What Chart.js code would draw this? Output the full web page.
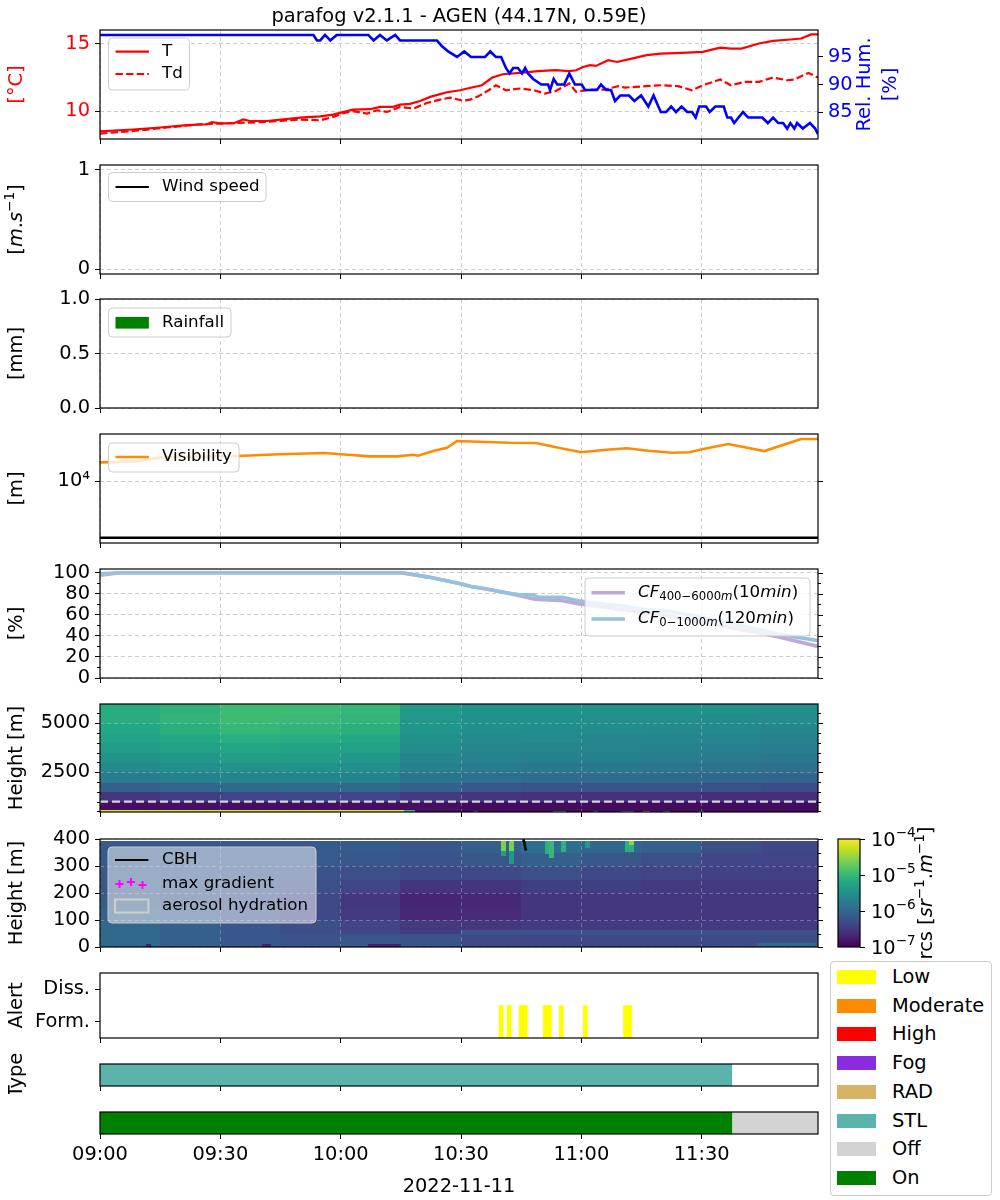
<!DOCTYPE html>
<html>
<head>
<meta charset="utf-8">
<title>parafog v2.1.1 - AGEN</title>
<script src="https://cdn.jsdelivr.net/npm/chart.js@4.4.1/dist/chart.umd.min.js"></script>
<style>
html,body{margin:0;padding:0;background:#fff;}
body{width:1000px;height:1200px;position:relative;overflow:hidden;font-family:"DejaVu Sans",sans-serif;}
canvas{position:absolute;left:0;}
#figleg{position:absolute;left:830px;top:961px;width:162px;height:235px;box-sizing:border-box;border:1px solid #cccccc;border-radius:4px;background:rgba(255,255,255,0.8);}
.lp{position:absolute;left:6px;width:39px;height:14px;}
.lt{position:absolute;left:61px;font-size:19.4px;line-height:22px;height:22px;color:#000;white-space:nowrap;}
</style>
</head>
<body>
<div id="figleg"></div>
<script>
// ===================== DATA =====================
const X_MIN = 0, X_MAX = 179;                 // minutes after 09:00
const xTickMinutes = [0, 30, 60, 90, 120, 150];
const xTickLabels = ['09:00', '09:30', '10:00', '10:30', '11:00', '11:30'];
const dateLabel = '2022-11-11';
const titleText = 'parafog v2.1.1 - AGEN (44.17N, 0.59E)';

// [minute, °C]
const tempSeries = [[0,8.52],[8.2,8.65],[15.0,8.8],[21.7,8.97],[26.7,9.04],[27.9,9.19],[29.9,9.1],[33.2,9.1],[35.7,9.39],[37.4,9.28],[41.6,9.28],[49.9,9.53],[54.9,9.62],[58.1,9.75],[60.6,9.93],[63.1,10.12],[67.3,10.15],[69.8,10.32],[73.1,10.32],[74.8,10.49],[77.3,10.55],[79.8,10.76],[82.3,11.06],[84.8,11.26],[86.5,11.4],[89.8,11.55],[91.6,11.68],[95.2,11.92],[97.8,12.49],[100.4,12.73],[104.7,12.83],[109.2,12.96],[113.5,13.03],[117.0,12.96],[118.7,13.03],[120.4,13.27],[122.2,13.4],[123.6,13.35],[126.7,13.77],[128.9,13.64],[132.8,13.9],[136.3,14.14],[139.8,14.26],[145.0,14.31],[150.3,14.38],[154.6,14.7],[157.3,14.63],[159.9,14.63],[164.3,15.0],[167.8,15.2],[172.1,15.3],[174.8,15.37],[177.3,15.67],[179,15.67]];
const dewSeries = [[0,8.35],[8.2,8.54],[16.7,8.8],[24.9,9.04],[33.2,9.13],[41.6,9.21],[49.9,9.39],[54.9,9.33],[58.1,9.58],[60.6,9.85],[63.1,10.0],[66.6,9.83],[69.1,10.07],[71.6,9.95],[74.8,10.32],[78.1,10.2],[81.5,10.61],[84.8,10.86],[87.3,11.0],[90.5,10.78],[92.3,10.86],[94.3,11.1],[96.9,11.55],[98.7,11.92],[101.2,11.55],[104.7,11.68],[108.2,11.55],[110.9,11.31],[113.5,11.48],[117.0,12.05],[118.7,11.43],[122.2,11.6],[125.7,11.6],[129.2,11.85],[130.9,11.75],[136.3,11.85],[139.8,11.92],[144.1,11.85],[147.6,11.55],[150.3,11.92],[154.6,12.34],[157.3,11.92],[160.8,12.17],[164.3,12.17],[167.8,12.49],[171.3,12.29],[173.1,12.34],[174.8,12.59],[176.6,12.83],[179,12.49]];
// [minute, %]
const rhSeries = [[0,99],[53.2,99],[54.1,98],[54.9,98],[56.1,99],[57.4,98],[59.0,99],[66.9,99],[68.2,98],[69.8,99],[71.5,98],[73.6,99],[74.8,98],[84.0,98],[85.2,97],[86.8,96],[89.0,95],[90.8,96],[92.5,95],[96.0,95],[97.3,96],[98.7,95],[100.0,95],[101.2,93],[102.1,92],[103.0,93],[104.2,93],[105.2,92],[106.0,93],[106.7,92],[108.0,91],[110.0,90],[111.7,90],[112.2,89],[113.1,91],[114.0,90],[115.7,90],[117.0,92],[118.4,90],[120.1,90],[120.9,89],[123.9,89],[124.9,90],[126.2,89],[127.4,89],[128.4,87],[129.7,88],[131.9,88],[133.2,87],[134.9,88],[136.7,86],[138.0,88],[139.8,85],[141.1,85],[142.4,86],[143.6,85],[145.0,86],[146.4,85],[147.6,85],[148.5,84],[149.4,86],[151.1,86],[152.0,85],[153.4,86],[155.5,86],[156.4,84],[157.3,84],[158.1,83],[160.3,85],[161.6,84],[165.1,84],[166.5,83],[167.8,84],[169.1,83],[170.3,83],[171.3,82],[172.1,83],[173.1,82],[173.8,83],[175.2,82],[177.0,83],[178.3,82],[179,81]];
const tempTicks = [10, 15], tempTickLabels = ['10', '15'];
const rhTicks = [85, 90, 95], rhTickLabels = ['85', '90', '95'];

const windSeries = [];
const windTicks = [0, 1], windTickLabels = ['0', '1'];
const rainSeries = [];
const rainTicks = [0, 0.5, 1], rainTickLabels = ['0.0', '0.5', '1.0'];

// [minute, m]
const visSeries = [[0,21700],[8.5,22300],[15.2,26600],[34.4,28100],[44.6,30100],[55.9,31800],[61.8,29600],[67.3,27700],[74.1,27700],[78.1,29600],[79.3,28400],[83.3,34900],[86.5,39400],[89.0,51800],[102.0,48300],[108.7,47800],[115.5,37800],[120.0,32700],[126.2,36300],[131.4,38500],[136.7,34900],[142.6,32100],[146.9,32700],[150.1,36900],[156.6,45900],[165.6,34400],[174.8,56200],[179,56200]];
const visThreshold = 1000;
const visTicks = [10000], visTickLabels = ['10\u2074'];

// [minute, %]
const cf400Series = [[0,97.5],[5,100],[75.2,100],[81.9,95.8],[89.9,89.4],[92.5,86.8],[95.3,85.2],[100.6,81.4],[104.6,78.1],[108.4,74.9],[115.3,73.3],[119.9,70.1],[125.9,66.9],[132.6,63.6],[142.0,58.8],[148.6,54.0],[155.4,49.2],[162.1,44.4],[168.7,39.5],[179,30.0]];
const cf0Series = [[0,99],[5,100],[75.2,100],[81.9,95.8],[89.9,89.4],[92.5,86.8],[95.3,85.2],[100.6,81.4],[104.6,79.1],[108.0,79.1],[109.2,76.6],[115.3,76.6],[119.3,73.3],[125.9,70.1],[129.9,68.5],[135.3,65.3],[142.0,63.0],[148.6,58.8],[155.4,53.4],[162.1,47.6],[168.7,42.1],[179,35.5]];
const cfTicks = [0, 20, 40, 60, 80, 100], cfTickLabels = ['0', '20', '40', '60', '80', '100'];
const cfMinorTicks = [10, 30, 50, 70, 90];

// range-corrected signal, log10(rcs), 15-min columns x height bands (bottom-up)
const heatCols = [0, 15, 30, 45, 60, 75, 90, 105, 120, 135, 150, 165];
const heat1Rows = [450, 1000, 1500, 2000, 2500, 3000, 3500, 4000, 4500, 5000, 5500];
const heat1RowTop = 6000;
const heat1Log = [
  [-6.88,-6.88,-6.88,-6.88,-6.88,-6.88,-6.91,-6.91,-6.91,-6.91,-6.91,-6.91],
  [-6.52,-6.46,-6.40,-6.34,-6.40,-6.49,-6.55,-6.58,-6.58,-6.58,-6.61,-6.61],
  [-6.10,-6.04,-5.98,-5.95,-5.98,-6.10,-6.19,-6.22,-6.22,-6.25,-6.28,-6.31],
  [-5.77,-5.71,-5.65,-5.65,-5.68,-5.86,-5.92,-5.95,-5.95,-5.98,-6.01,-6.04],
  [-5.59,-5.53,-5.50,-5.50,-5.53,-5.71,-5.77,-5.80,-5.80,-5.83,-5.86,-5.89],
  [-5.47,-5.41,-5.35,-5.35,-5.41,-5.62,-5.68,-5.71,-5.71,-5.74,-5.77,-5.80],
  [-5.35,-5.29,-5.23,-5.26,-5.29,-5.56,-5.62,-5.65,-5.65,-5.68,-5.71,-5.74],
  [-5.26,-5.20,-5.11,-5.14,-5.20,-5.50,-5.59,-5.59,-5.62,-5.62,-5.65,-5.68],
  [-5.20,-5.11,-5.02,-5.05,-5.11,-5.44,-5.53,-5.56,-5.56,-5.59,-5.59,-5.62],
  [-5.14,-5.05,-4.96,-4.99,-5.05,-5.41,-5.50,-5.50,-5.53,-5.53,-5.56,-5.56],
  [-5.14,-5.08,-4.96,-4.96,-5.02,-5.38,-5.50,-5.50,-5.50,-5.50,-5.50,-5.53]
];
// [minStart, minEnd, hBottom, hTop, log10 rcs]
const heat1Cells = [[0,76,450,540,-4.15],[76,78.5,450,540,-5.0],[93,94,450,520,-5.2],[113,116,450,520,-4.9],[123,124,450,520,-5.2],[130,133,450,520,-5.0],[135.5,137,450,520,-4.6],[140.5,142,450,520,-5.0],[149.5,150.5,450,520,-5.0]];
const heat1Ticks = [2500, 5000], heat1TickLabels = ['2500', '5000'];
const heat1MinorTicks = [500, 1000, 1500, 2000, 3000, 3500, 4000, 4500, 5500];
const cloudFracLimit = 1000;

const heat2Rows = [0, 50, 100, 150, 200, 250, 300, 350];
const heat2RowTop = 390;
const heat2Log = [
  [-5.98,-6.10,-6.19,-6.22,-6.19,-6.22,-6.34,-6.37,-6.34,-6.34,-6.31,-6.28],
  [-5.98,-6.10,-6.19,-6.28,-6.40,-6.49,-6.52,-6.49,-6.49,-6.49,-6.49,-6.49],
  [-6.07,-6.16,-6.25,-6.34,-6.49,-6.67,-6.64,-6.55,-6.52,-6.52,-6.52,-6.52],
  [-6.13,-6.19,-6.25,-6.34,-6.52,-6.70,-6.67,-6.55,-6.52,-6.52,-6.52,-6.52],
  [-6.16,-6.19,-6.22,-6.28,-6.40,-6.55,-6.55,-6.46,-6.46,-6.49,-6.49,-6.49],
  [-6.16,-6.16,-6.19,-6.22,-6.28,-6.34,-6.34,-6.28,-6.34,-6.40,-6.43,-6.43],
  [-6.16,-6.16,-6.16,-6.16,-6.19,-6.22,-6.19,-6.10,-6.19,-6.28,-6.37,-6.40],
  [-6.16,-6.16,-6.16,-6.16,-6.16,-6.19,-6.10,-5.92,-6.01,-6.10,-6.28,-6.34]
];
const heat2Cells = [[100,101,355,390,-4.6],[100,101,340,355,-5.3],[102,103,355,390,-4.6],[102,103,310,355,-5.4],[111,112,345,390,-5.1],[112,113,330,390,-5.0],[115,116,355,390,-5.1],[121,122,370,390,-5.4],[131,132,355,390,-5.1],[132,133,375,390,-4.5],[132,133,355,375,-5.1],[11.7,12.6,0,8,-6.75],[40.6,42.4,0,8,-6.75],[67,75,0,8,-6.75],[90,179,45,60,-6.25],[164,179,0,12,-6.0]];
const heat2Ticks = [0, 100, 200, 300, 400], heat2TickLabels = ['0', '100', '200', '300', '400'];
const heat2MinorTicks = [50, 150, 250, 350];
const cbhSeries = [[105.4,410],[106.2,357]];
const rcsLogMin = -7, rcsLogMax = -4;
const rcsTicks = [-7, -6, -5, -4];

// alerts (minutes with a "Form." / Low alert)
const alertFormMinutes = [100, 102, 105, 106, 111, 112, 115, 121, 131, 132];
const alertFormLevel = 1;
const alertTicks = [1, 2], alertTickLabels = ['Form.', 'Diss.'];
const stlSpan = [0, 157.5];
const onSpan = [0, 157.5];
const offSpan = [157.5, 179];
const statusLabels = ['Low', 'Moderate', 'High', 'Fog', 'RAD', 'STL', 'Off', 'On'];
const statusColors = ['#ffff00', '#ff8c00', '#ff0000', '#8a2be2', '#d8b365', '#5ab4ac', '#d3d3d3', '#008000'];

// ===================== STYLE / HELPERS =====================
const FONT = '"DejaVu Sans", sans-serif';
const FS_TICK = 19.4, FS_LAB = 19.4, FS_LEG = 16.7;
const GRID = 'rgba(176,176,176,0.8)';
const GRID_HEAT = 'rgba(205,205,205,0.45)';
const CF400_COLOR = 'rgb(190,168,212)';
const CF0_COLOR = 'rgb(150,192,222)';
const VIRIDIS = [[68,1,84],[72,36,117],[65,68,135],[53,95,141],[42,120,142],[33,145,140],[34,168,132],[68,191,112],[122,209,81],[189,223,38],[253,231,37]];
Chart.defaults.font.family = FONT;

function viridis(t) {
  t = Math.max(0, Math.min(1, t));
  const p = t * (VIRIDIS.length - 1);
  const i = Math.min(Math.floor(p), VIRIDIS.length - 2);
  const f = p - i, a = VIRIDIS[i], b = VIRIDIS[i + 1];
  return 'rgb(' + [0,1,2].map(k => Math.round(a[k] + (b[k] - a[k]) * f)).join(',') + ')';
}
const toXY = arr => arr.map(([x, y]) => ({x, y}));

function drawRich(ctx, segs, x, y, size, color, align) {
  const parts = segs.map(s => {
    const sz = (s.sup || s.sub) ? size * 0.7 : size;
    const font = (s.it ? 'italic ' : '') + sz + 'px ' + FONT;
    ctx.font = font;
    return {s, font, w: ctx.measureText(s.t).width};
  });
  const total = parts.reduce((a, p) => a + p.w, 0);
  let cx = align === 'center' ? x - total / 2 : (align === 'right' ? x - total : x);
  ctx.fillStyle = color; ctx.textAlign = 'left'; ctx.textBaseline = 'middle';
  for (const p of parts) {
    ctx.font = p.font;
    const dy = p.s.sup ? -size * 0.34 : (p.s.sub ? size * 0.24 : 0);
    ctx.fillText(p.s.t, cx, y + dy);
    cx += p.w;
  }
  return total;
}
function roundRect(ctx, x, y, w, h, r) {
  ctx.beginPath();
  ctx.moveTo(x + r, y); ctx.lineTo(x + w - r, y); ctx.quadraticCurveTo(x + w, y, x + w, y + r);
  ctx.lineTo(x + w, y + h - r); ctx.quadraticCurveTo(x + w, y + h, x + w - r, y + h);
  ctx.lineTo(x + r, y + h); ctx.quadraticCurveTo(x, y + h, x, y + h - r);
  ctx.lineTo(x, y + r); ctx.quadraticCurveTo(x, y, x + r, y); ctx.closePath();
}

function xScale(o = {}) {
  return {
    type: 'linear', min: X_MIN, max: X_MAX, offset: false,
    afterBuildTicks: s => { s.ticks = xTickMinutes.map(v => ({value: v})); },
    afterFit: s => { s.height = o.h || 8; s.paddingLeft = 0; s.paddingRight = 0; },
    ticks: {display: !!o.labels, autoSkip: false, maxRotation: 0, minRotation: 0, padding: 4, color: '#000',
            font: {family: FONT, size: FS_TICK}, callback: (v, i) => xTickLabels[i]},
    grid: {display: true, drawOnChartArea: o.grid !== false, color: o.gridColor || GRID, lineWidth: 0.8,
           drawTicks: true, tickLength: 5, tickColor: '#000', tickWidth: 1, offset: false, z: o.gz || -1},
    border: {display: false, dash: [4, 3]}
  };
}
function yScale(o) {
  return {
    type: o.type || 'linear', position: o.pos || 'left', min: o.min, max: o.max,
    afterBuildTicks: s => { s.ticks = o.ticks.map(v => ({value: v})); },
    afterFit: s => { s.width = o.w || 100; s.paddingTop = 0; s.paddingBottom = 0; },
    ticks: {display: true, autoSkip: false, padding: 5, color: o.color || '#000',
            font: {family: FONT, size: FS_TICK}, callback: (v, i) => o.labels[i]},
    grid: {display: true, drawOnChartArea: o.grid !== false, color: o.gridColor || GRID, lineWidth: 0.8,
           drawTicks: true, tickLength: 5, tickColor: '#000', tickWidth: 1, z: o.gz || -1},
    border: {display: false, dash: [4, 3]}
  };
}
function catScale() {
  return {type: 'category', offset: true, ticks: {display: false}, grid: {display: false},
          border: {display: false}, afterFit: s => { s.width = 100; s.paddingTop = 0; s.paddingBottom = 0; }};
}

const framePlugin = {id: 'frame', afterDraw(chart) {
  const {ctx, chartArea: a} = chart;
  ctx.save(); ctx.strokeStyle = '#000'; ctx.lineWidth = 1.2;
  ctx.strokeRect(a.left, a.top, a.right - a.left, a.bottom - a.top); ctx.restore();
}};
function yLabelPlugin(items) {
  return {id: 'ylab', afterDraw(chart) {
    const {ctx, chartArea: a} = chart; const cy = (a.top + a.bottom) / 2;
    items.forEach(it => {
      ctx.save(); ctx.translate(it.x, cy); ctx.rotate(-Math.PI / 2);
      drawRich(ctx, it.segs, 0, 0, FS_LAB, it.color || '#000', 'center'); ctx.restore();
    });
  }};
}
function extraTicksPlugin(spec) {
  return {id: 'xticks', afterDraw(chart) {
    const {ctx, chartArea: a, scales} = chart; const y = scales.y;
    ctx.save(); ctx.strokeStyle = '#000'; ctx.lineWidth = 1;
    const draw = (vals, side, len) => (vals || []).forEach(v => {
      const py = Math.round(y.getPixelForValue(v)) + 0.5;
      if (py < a.top - 1 || py > a.bottom + 1) return;
      ctx.beginPath();
      if (side === 'r') { ctx.moveTo(a.right, py); ctx.lineTo(a.right + len, py); }
      else { ctx.moveTo(a.left, py); ctx.lineTo(a.left - len, py); }
      ctx.stroke();
    });
    draw(spec.rightMajor, 'r', 5); draw(spec.rightMinor, 'r', 3); draw(spec.leftMinor, 'l', 3);
    ctx.restore();
  }};
}
function legendPlugin(top, box) {
  return {id: 'mlegend', afterDraw(chart) {
    const ctx = chart.ctx; ctx.save();
    roundRect(ctx, box.x, box.y - top, box.w, box.h, 4);
    ctx.fillStyle = 'rgba(255,255,255,' + box.alpha + ')'; ctx.fill();
    ctx.strokeStyle = '#cccccc'; ctx.lineWidth = 1; ctx.stroke();
    box.items.forEach(it => {
      const cy = it.y - top, hx0 = box.hx, HL = 33.4;
      ctx.setLineDash(it.dash || []);
      if (it.kind === 'line') {
        ctx.strokeStyle = it.color; ctx.lineWidth = it.lw || 2.2;
        ctx.beginPath(); ctx.moveTo(hx0, cy); ctx.lineTo(hx0 + HL, cy); ctx.stroke();
      } else if (it.kind === 'patch') {
        ctx.fillStyle = it.color; ctx.fillRect(hx0, cy - 5.8, HL, 11.7);
      } else if (it.kind === 'plus') {
        ctx.strokeStyle = it.color; ctx.lineWidth = 2;
        [[4.5, 0.5], [16, -1.5], [27.5, 1.5]].forEach(([dx, dy]) => {
          const px = hx0 + dx, py = cy + dy;
          ctx.beginPath(); ctx.moveTo(px - 4, py); ctx.lineTo(px + 4, py);
          ctx.moveTo(px, py - 4); ctx.lineTo(px, py + 4); ctx.stroke();
        });
      } else if (it.kind === 'outline') {
        ctx.strokeStyle = it.color; ctx.lineWidth = 2; ctx.strokeRect(hx0, cy - 6.5, HL, 13);
      }
      ctx.setLineDash([]);
      drawRich(ctx, it.label, box.tx, cy, FS_LEG, '#000', 'left');
    });
    ctx.restore();
  }};
}
function heatPlugin(rows, rowTop, values, cells) {
  return {id: 'heat', beforeDatasetsDraw(chart) {
    const {ctx, chartArea: a, scales} = chart; const xs = scales.x, ys = scales.y;
    ctx.save(); ctx.beginPath(); ctx.rect(a.left, a.top, a.right - a.left, a.bottom - a.top); ctx.clip();
    const cell = (t0, t1, h0, h1, v) => {
      const x0 = xs.getPixelForValue(t0), x1 = xs.getPixelForValue(t1);
      const yb = ys.getPixelForValue(h0), yt = ys.getPixelForValue(h1);
      ctx.fillStyle = viridis((v - rcsLogMin) / (rcsLogMax - rcsLogMin));
      ctx.fillRect(Math.floor(x0), Math.floor(yt), Math.ceil(x1) - Math.floor(x0), Math.ceil(yb) - Math.floor(yt));
    };
    values.forEach((row, j) => row.forEach((v, i) =>
      cell(heatCols[i], i + 1 < heatCols.length ? heatCols[i + 1] : X_MAX, rows[j], j + 1 < rows.length ? rows[j + 1] : rowTop, v)));
    cells.forEach(c => cell(...c));
    ctx.restore();
  }};
}
function textPlugin(top, items) {
  return {id: 'txt', afterDraw(chart) {
    const ctx = chart.ctx; ctx.save();
    items.forEach(it => {
      ctx.font = FS_LAB + 'px ' + FONT; ctx.fillStyle = '#000'; ctx.textAlign = 'center'; ctx.textBaseline = 'alphabetic';
      ctx.fillText(it.t, it.x, it.y - top);
    });
    ctx.restore();
  }};
}
const colorbarPlugin = {id: 'cbar', afterDraw(chart) {
  const {ctx, chartArea: a} = chart;
  const x0 = 838, x1 = 860, top = a.top, bot = a.bottom;
  ctx.save();
  const g = ctx.createLinearGradient(0, bot, 0, top);
  VIRIDIS.forEach((c, k) => g.addColorStop(k / (VIRIDIS.length - 1), 'rgb(' + c.join(',') + ')'));
  ctx.fillStyle = g; ctx.fillRect(x0, top, x1 - x0, bot - top);
  ctx.strokeStyle = '#000'; ctx.lineWidth = 1.2; ctx.strokeRect(x0, top, x1 - x0, bot - top);
  ctx.lineWidth = 1;
  rcsTicks.forEach(v => {
    const py = Math.round(bot - (v - rcsLogMin) / (rcsLogMax - rcsLogMin) * (bot - top)) + 0.5;
    ctx.beginPath(); ctx.moveTo(x1, py); ctx.lineTo(x1 + 5, py); ctx.stroke();
    drawRich(ctx, [{t: '10'}, {t: '\u2212' + Math.abs(v), sup: 1}], x1 + 11, py + 1, FS_TICK, '#000', 'left');
  });
  ctx.translate(927, (top + bot) / 2); ctx.rotate(-Math.PI / 2);
  drawRich(ctx, [{t: 'rcs ['}, {t: 'sr', it: 1}, {t: '\u22121', sup: 1}, {t: '.'}, {t: 'm', it: 1}, {t: '\u22121', sup: 1}, {t: ']'}], 0, 0, FS_LAB, '#000', 'center');
  ctx.restore();
}};

function makeChart(spec) {
  const c = document.createElement('canvas');
  c.width = 1000; c.height = spec.height;
  c.style.top = spec.top + 'px'; c.style.width = '1000px'; c.style.height = spec.height + 'px';
  document.body.appendChild(c);
  return new Chart(c.getContext('2d'), {
    type: spec.type || 'line',
    data: spec.data,
    options: {
      responsive: false, animation: false, events: [],
      indexAxis: spec.indexAxis || 'x',
      layout: {padding: {top: spec.padTop, right: spec.padRight === undefined ? 182 : spec.padRight, left: 0, bottom: 0}},
      plugins: {legend: {display: false}, tooltip: {enabled: false}, title: {display: false}},
      elements: {point: {radius: 0}, line: {tension: 0}},
      scales: spec.scales
    },
    plugins: spec.plugins || []
  });
}

// ===================== PANELS =====================
// 1: temperature / dew point / RH
makeChart({top: 0, height: 147, padTop: 30, padRight: 0,
  data: {datasets: [
    {data: toXY(rhSeries), yAxisID: 'y2', borderColor: '#0000ff', borderWidth: 2.6},
    {data: toXY(tempSeries), yAxisID: 'y', borderColor: '#ff0000', borderWidth: 2.2},
    {data: toXY(dewSeries), yAxisID: 'y', borderColor: '#ff0000', borderWidth: 2.2, borderDash: [7.4, 3.2]}
  ]},
  scales: {
    x: xScale(),
    y: yScale({min: 7.95, max: 16.0, ticks: tempTicks, labels: tempTickLabels, color: '#ff0000'}),
    y2: yScale({pos: 'right', w: 182, min: 80.1, max: 99.9, ticks: rhTicks, labels: rhTickLabels, color: '#0000ff', grid: false})
  },
  plugins: [framePlugin,
    yLabelPlugin([{segs: [{t: '[\u00b0C]'}], x: 17, color: '#ff0000'},
                  {segs: [{t: 'Rel. Hum.'}], x: 865, color: '#0000ff'},
                  {segs: [{t: '[%]'}], x: 891, color: '#0000ff'}]),
    legendPlugin(0, {x: 108.5, y: 38, w: 81, h: 52, alpha: 0.8, hx: 115.5, tx: 162, items: [
      {kind: 'line', color: '#ff0000', y: 51.7, label: [{t: 'T'}]},
      {kind: 'line', color: '#ff0000', dash: [7.4, 3.2], y: 74, label: [{t: 'Td'}]}]}),
    textPlugin(0, [{t: titleText, x: 459, y: 22}])]
});

// 2: wind speed
makeChart({top: 147, height: 135, padTop: 18,
  data: {datasets: [{data: toXY(windSeries), borderColor: '#000', borderWidth: 2.2}]},
  scales: {x: xScale(), y: yScale({min: -0.05, max: 1.05, ticks: windTicks, labels: windTickLabels})},
  plugins: [framePlugin,
    yLabelPlugin([{segs: [{t: '['}, {t: 'm', it: 1}, {t: '.'}, {t: 's', it: 1}, {t: '\u22121', sup: 1}, {t: ']'}], x: 17}]),
    legendPlugin(147, {x: 108.5, y: 172.5, w: 157.5, h: 29, alpha: 0.8, hx: 115.5, tx: 162, items: [
      {kind: 'line', color: '#000', y: 187, label: [{t: 'Wind speed'}]}]})]
});

// 3: rainfall
makeChart({top: 282, height: 134, padTop: 17,
  data: {datasets: [{data: toXY(rainSeries), borderColor: '#008000'}]},
  scales: {x: xScale(), y: yScale({min: 0, max: 1, ticks: rainTicks, labels: rainTickLabels})},
  plugins: [framePlugin, yLabelPlugin([{segs: [{t: '[mm]'}], x: 17}]),
    legendPlugin(282, {x: 108.5, y: 308, w: 122.5, h: 29, alpha: 0.8, hx: 115.5, tx: 162, items: [
      {kind: 'patch', color: '#008000', y: 322.7, label: [{t: 'Rainfall'}]}]})]
});

// 4: visibility
makeChart({top: 416, height: 135, padTop: 18,
  data: {datasets: [
    {data: toXY(visSeries), borderColor: '#ff8c00', borderWidth: 2.6},
    {data: [{x: X_MIN, y: visThreshold}, {x: X_MAX, y: visThreshold}], borderColor: '#000', borderWidth: 2.6}
  ]},
  scales: {x: xScale(), y: yScale({type: 'logarithmic', min: 805, max: 69000, ticks: visTicks, labels: visTickLabels})},
  plugins: [framePlugin, yLabelPlugin([{segs: [{t: '[m]'}], x: 17}]), extraTicksPlugin({rightMajor: visTicks}),
    legendPlugin(416, {x: 108.5, y: 443, w: 130.5, h: 29, alpha: 0.8, hx: 115.5, tx: 162, items: [
      {kind: 'line', color: '#ff8c00', lw: 2.6, y: 457, label: [{t: 'Visibility'}]}]})]
});

// 5: cloud fraction
makeChart({top: 551, height: 135, padTop: 18,
  data: {datasets: [
    {data: toXY(cf0Series), borderColor: CF0_COLOR, borderWidth: 3.6},
    {data: toXY(cf400Series), borderColor: CF400_COLOR, borderWidth: 3.6}
  ]},
  scales: {x: xScale(), y: yScale({min: 0, max: 103.5, ticks: cfTicks, labels: cfTickLabels})},
  plugins: [framePlugin, yLabelPlugin([{segs: [{t: '[%]'}], x: 17}]),
    extraTicksPlugin({rightMajor: cfTicks, rightMinor: cfMinorTicks, leftMinor: cfMinorTicks}),
    legendPlugin(551, {x: 585, y: 578, w: 225, h: 58, alpha: 0.8, hx: 591.5, tx: 638, items: [
      {kind: 'line', color: CF400_COLOR, lw: 3.6, y: 592.7,
       label: [{t: 'CF', it: 1}, {t: '400\u22126000', sub: 1}, {t: 'm', sub: 1, it: 1}, {t: '(10'}, {t: 'min', it: 1}, {t: ')'}]},
      {kind: 'line', color: CF0_COLOR, lw: 3.6, y: 619,
       label: [{t: 'CF', it: 1}, {t: '0\u22121000', sub: 1}, {t: 'm', sub: 1, it: 1}, {t: '(120'}, {t: 'min', it: 1}, {t: ')'}]}]})]
});

// 6: backscatter 0-6000 m
makeChart({top: 686, height: 134, padTop: 18,
  data: {datasets: [
    {data: [{x: X_MIN, y: cloudFracLimit}, {x: X_MAX, y: cloudFracLimit}], borderColor: 'rgba(222,222,222,0.95)', borderWidth: 2.2, borderDash: [8, 4]}
  ]},
  scales: {x: xScale({gz: 1, gridColor: GRID_HEAT}),
           y: yScale({min: 470, max: 5980, ticks: heat1Ticks, labels: heat1TickLabels, gz: 1, gridColor: GRID_HEAT})},
  plugins: [heatPlugin(heat1Rows, heat1RowTop, heat1Log, heat1Cells), framePlugin,
    yLabelPlugin([{segs: [{t: 'Height [m]'}], x: 17}]),
    extraTicksPlugin({rightMajor: heat1Ticks, rightMinor: heat1MinorTicks, leftMinor: heat1MinorTicks})]
});

// 7: backscatter 0-400 m
makeChart({top: 820, height: 145, padTop: 19,
  data: {datasets: [
    {data: toXY(cbhSeries), borderColor: '#000', borderWidth: 2.6}
  ]},
  scales: {x: xScale({gz: 1, gridColor: GRID_HEAT, h: 18}),
           y: yScale({min: 0, max: 400, ticks: heat2Ticks, labels: heat2TickLabels, gz: 1, gridColor: GRID_HEAT})},
  plugins: [heatPlugin(heat2Rows, heat2RowTop, heat2Log, heat2Cells), framePlugin,
    yLabelPlugin([{segs: [{t: 'Height [m]'}], x: 17}]),
    extraTicksPlugin({rightMajor: heat2Ticks, rightMinor: heat2MinorTicks}),
    colorbarPlugin,
    legendPlugin(820, {x: 108, y: 847, w: 208, h: 76, alpha: 0.5, hx: 115, tx: 162, items: [
      {kind: 'line', color: '#000', y: 860, label: [{t: 'CBH'}]},
      {kind: 'plus', color: '#ff00ff', y: 883.5, label: [{t: 'max gradient'}]},
      {kind: 'outline', color: '#cfcfcf', y: 906, label: [{t: 'aerosol hydration'}]}]})]
});

// 8: alerts
makeChart({top: 955, height: 91, padTop: 18, type: 'bar',
  data: {datasets: [{data: alertFormMinutes.map(t => ({x: t, y: [alertFormLevel - 0.5, alertFormLevel + 0.5]})),
    backgroundColor: '#ffff00', borderWidth: 0, barPercentage: 1, categoryPercentage: 1}]},
  scales: {x: xScale({grid: false}), y: yScale({min: 0.5, max: 2.5, ticks: alertTicks, labels: alertTickLabels, grid: false})},
  plugins: [framePlugin, yLabelPlugin([{segs: [{t: 'Alert'}], x: 17}])]
});

// 9: fog type
makeChart({top: 1046, height: 48, padTop: 18, type: 'bar', indexAxis: 'y',
  data: {labels: ['type'], datasets: [{data: [stlSpan], backgroundColor: '#5ab4ac', borderWidth: 0, barPercentage: 1, categoryPercentage: 1}]},
  scales: {x: xScale({grid: false}), y: catScale()},
  plugins: [framePlugin, yLabelPlugin([{segs: [{t: 'Type'}], x: 17}])]
});

// 10: on / off
makeChart({top: 1094, height: 106, padTop: 18, type: 'bar', indexAxis: 'y',
  data: {labels: ['state'], datasets: [
    {data: [onSpan], backgroundColor: '#008000', borderWidth: 0, barPercentage: 1, categoryPercentage: 1, grouped: false},
    {data: [offSpan], backgroundColor: '#d3d3d3', borderWidth: 0, barPercentage: 1, categoryPercentage: 1, grouped: false}]},
  scales: {x: xScale({grid: false, labels: true, h: 66}), y: catScale()},
  plugins: [framePlugin, textPlugin(1094, [{t: dateLabel, x: 459, y: 1192}])]
});

// figure legend (status colours)
const leg = document.getElementById('figleg');
statusLabels.forEach((lab, i) => {
  const cy = 15 + i * 28.7;
  const p = document.createElement('div'); p.className = 'lp';
  p.style.top = (cy - 7) + 'px'; p.style.background = statusColors[i];
  const t = document.createElement('div'); t.className = 'lt';
  t.style.top = (cy - 11) + 'px'; t.textContent = lab;
  leg.appendChild(p); leg.appendChild(t);
});
</script>
</body>
</html>
